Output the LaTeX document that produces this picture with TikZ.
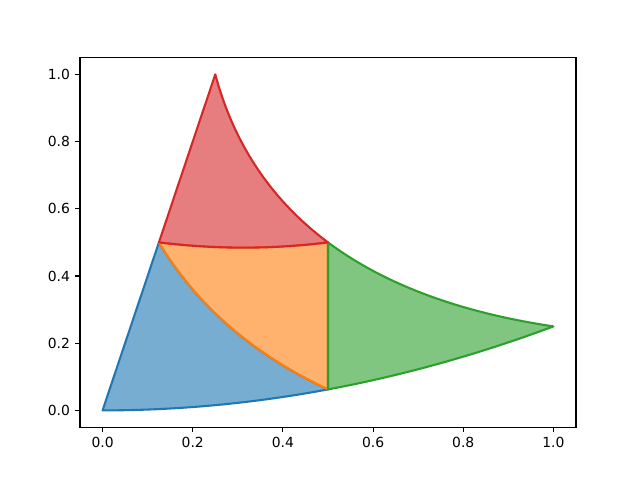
\documentclass[tikz,border=0pt]{standalone}
\usepackage{fontspec}
\setmainfont{DejaVu Sans}
\definecolor{Cblue}{HTML}{1F77B4}
\definecolor{Corange}{HTML}{FF7F0E}
\definecolor{Cgreen}{HTML}{2CA02C}
\definecolor{Cred}{HTML}{D62728}
\tikzset{
  patchfill/.style={fill=#1, fill opacity=0.6, draw=none},
  patchedge/.style={draw=#1, line width=1.5pt, line join=round},
  spine/.style={draw=black, line width=0.8pt, line cap=rect},
  tickmark/.style={draw=black, line width=0.8pt},
  ticklabel/.style={inner sep=0pt, font=\fontsize{10}{12}\selectfont}
}
\begin{document}
\begin{tikzpicture}[x=0.72pt,y=0.72pt]
\useasboundingbox (0,0) rectangle (640,480);
\fill[white] (0,0) rectangle (640,480);
\begin{scope}[shift={(73.836pt,50.112pt)}, x=324.655pt, y=241.92pt]
  \coordinate (A) at (0,0);
  \coordinate (B) at (0.25,1);
  \coordinate (C) at (1,0.25);
  \coordinate (mAB) at (0.125,0.5);
  \coordinate (mAC) at (0.5,0.0625);
  \coordinate (mBC) at (0.5,0.5);
  % blue
  \path[patchfill=Cblue] (A) -- (mAB) .. controls (0.208333,0.3125) and (0.333333,0.166667) .. (mAC) .. controls (0.333333,0.020833) and (0.166667,0) .. (A) -- cycle;
  \path[patchedge=Cblue] (A) -- (mAB) .. controls (0.208333,0.3125) and (0.333333,0.166667) .. (mAC) .. controls (0.333333,0.020833) and (0.166667,0) .. (A) -- cycle;
  % orange
  \path[patchfill=Corange] (mAB) .. controls (0.25,0.479167) and (0.375,0.479167) .. (mBC) -- (mAC) .. controls (0.333333,0.166667) and (0.208333,0.3125) .. (mAB) -- cycle;
  \path[patchedge=Corange] (mAB) .. controls (0.25,0.479167) and (0.375,0.479167) .. (mBC) -- (mAC) .. controls (0.333333,0.166667) and (0.208333,0.3125) .. (mAB) -- cycle;
  % green
  \path[patchfill=Cgreen] (mAC) .. controls (0.666667,0.104167) and (0.833333,0.166667) .. (C) .. controls (0.791667,0.291667) and (0.625,0.375) .. (mBC) -- (mAC) -- cycle;
  \path[patchedge=Cgreen] (mAC) .. controls (0.666667,0.104167) and (0.833333,0.166667) .. (C) .. controls (0.791667,0.291667) and (0.625,0.375) .. (mBC) -- (mAC) -- cycle;
  % red
  \path[patchfill=Cred] (mAB) -- (B) .. controls (0.291667,0.791667) and (0.375,0.625) .. (mBC) .. controls (0.375,0.479167) and (0.25,0.479167) .. (mAB) -- cycle;
  \path[patchedge=Cred] (mAB) -- (B) .. controls (0.291667,0.791667) and (0.375,0.625) .. (mBC) .. controls (0.375,0.479167) and (0.25,0.479167) .. (mAB) -- cycle;
\end{scope}
% axes frame
\coordinate (axSW) at (80,52.8);
\coordinate (axNE) at (576,422.4);
\draw[spine] (axSW) rectangle (axNE);
% x ticks
\foreach \v/\t [count=\i] in {0/0.0,1/0.2,2/0.4,3/0.6,4/0.8,5/1.0} {
  \coordinate (xt\i) at ({102.545+90.1818*\v},52.8);
  \draw[tickmark] (xt\i) -- ++(0,-3.5pt);
  \node[ticklabel, anchor=north] (xl\i) at ([yshift=-7pt]xt\i) {\t};
}
% y ticks
\foreach \v/\t [count=\i] in {0/0.0,1/0.2,2/0.4,3/0.6,4/0.8,5/1.0} {
  \coordinate (yt\i) at (80,{69.6+67.2*\v});
  \draw[tickmark] (yt\i) -- ++(-3.5pt,0);
  \node[ticklabel, anchor=east] (yl\i) at ([xshift=-7pt]yt\i) {\t};
}
\end{tikzpicture}
\end{document}
